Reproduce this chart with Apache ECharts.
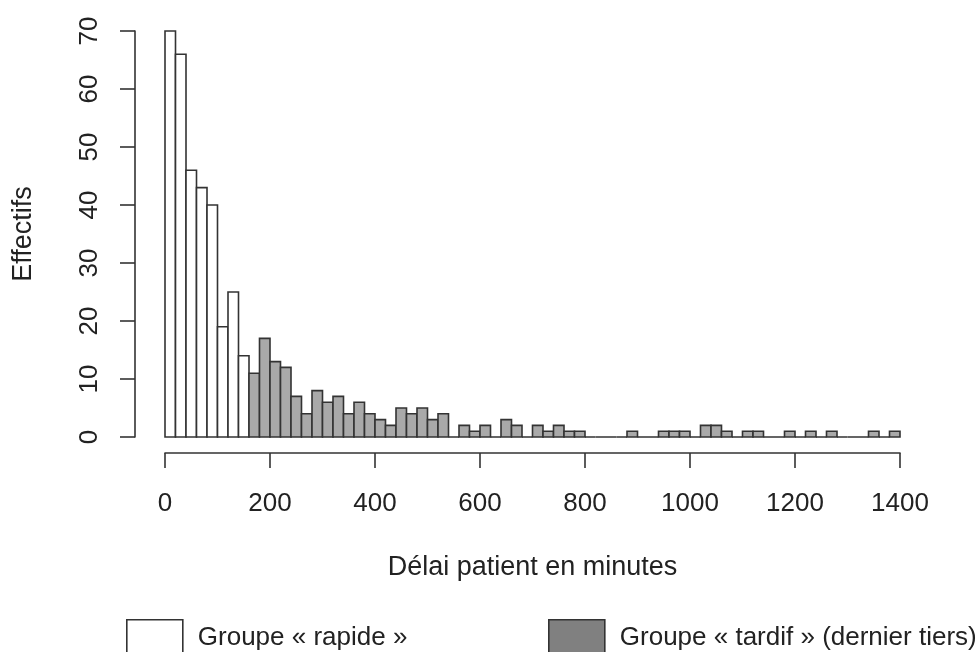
<!DOCTYPE html>
<html>
<head>
<meta charset="utf-8">
<style>
  html, body { margin: 0; padding: 0; background: #fff; }
  #chart { width: 979px; height: 652px; }
</style>
<script src="https://cdn.jsdelivr.net/npm/echarts@6/dist/echarts.min.js"></script>
</head>
<body>
<div id="chart"></div>
<script>
// histogram, bins of 20 minutes
const binWidth = 20;
const rapideStart = 0;
const rapideCounts = [70, 66, 46, 43, 40, 19, 25, 14];
const tardifStart = 160;
const tardifCounts = [
  11, 17, 13, 12, 7, 4, 8, 6, 7, 4,
  6, 4, 3, 2, 5, 4, 5, 3, 4, 0,
  2, 1, 2, 0, 3, 2, 0, 2, 1, 2,
  1, 1, 0, 0, 0, 0, 1, 0, 0, 1,
  1, 1, 0, 2, 2, 1, 0, 1, 1, 0,
  0, 1, 0, 1, 0, 1, 0, 0, 0, 1,
  0, 1
];
const xTicks = [0, 200, 400, 600, 800, 1000, 1200, 1400];
const yTicks = [0, 10, 20, 30, 40, 50, 60, 70];

const FONT = "Liberation Sans, Arial, sans-serif";
const TXT = "#222";
const LINE = "#333";
const NAME_RAPIDE = "Groupe « rapide »";
const NAME_TARDIF = "Groupe « tardif » (dernier tiers)";

function toBins(start, counts) {
  return counts.map((c, i) => [start + i * binWidth, start + (i + 1) * binWidth, c]);
}

function histRender(fill) {
  return function (params, api) {
    var p0 = api.coord([api.value(0), api.value(2)]);
    var p1 = api.coord([api.value(1), 0]);
    return {
      type: "rect",
      shape: { x: p0[0], y: p0[1], width: p1[0] - p0[0], height: p1[1] - p0[1] },
      style: { fill: fill, stroke: LINE, lineWidth: 1.6 },
    };
  };
}

function legendBox(left, name, fill) {
  return {
    left: left,
    top: 619,
    padding: 0,
    itemWidth: 56,
    itemHeight: 37,
    icon: "rect",
    textStyle: { fontSize: 26, color: TXT, fontFamily: FONT, padding: [0, 0, 0, 10] },
    data: [{ name: name, itemStyle: { color: fill, borderColor: LINE, borderWidth: 1.6 } }],
  };
}

var chart = echarts.init(document.getElementById("chart"));
chart.setOption({
  animation: false,
  backgroundColor: "#fff",
  textStyle: { fontFamily: FONT, color: TXT },
  grid: { left: 165, right: 79, top: 31, bottom: 215 },
  xAxis: {
    type: "value",
    min: xTicks[0],
    max: xTicks[xTicks.length - 1],
    interval: 200,
    offset: 16,
    name: "Délai patient en minutes",
    nameLocation: "middle",
    nameGap: 101,
    nameTextStyle: { fontSize: 27, color: TXT, fontFamily: FONT },
    splitLine: { show: false },
    axisLine: { show: true, onZero: false, lineStyle: { color: LINE, width: 1.6 } },
    axisTick: { show: true, length: 15, lineStyle: { color: LINE, width: 1.6 } },
    axisLabel: { fontSize: 26, color: TXT, fontFamily: FONT, margin: 38, formatter: (v) => String(v) },
  },
  yAxis: {
    type: "value",
    min: yTicks[0],
    max: yTicks[yTicks.length - 1],
    interval: 10,
    offset: 30,
    name: "Effectifs",
    nameLocation: "middle",
    nameGap: 98,
    nameTextStyle: { fontSize: 27, color: TXT, fontFamily: FONT },
    splitLine: { show: false },
    axisLine: { show: true, onZero: false, lineStyle: { color: LINE, width: 1.6 } },
    axisTick: { show: true, length: 15, lineStyle: { color: LINE, width: 1.6 } },
    axisLabel: { fontSize: 26, color: TXT, fontFamily: FONT, rotate: 90, margin: 32 },
  },
  legend: [
    legendBox(126, NAME_RAPIDE, "#ffffff"),
    legendBox(548, NAME_TARDIF, "#808080"),
  ],
  series: [
    {
      name: NAME_RAPIDE,
      type: "custom",
      renderItem: histRender("#ffffff"),
      itemStyle: { color: "#ffffff", borderColor: LINE },
      encode: { x: [0, 1], y: 2 },
      data: toBins(rapideStart, rapideCounts),
    },
    {
      name: NAME_TARDIF,
      type: "custom",
      renderItem: histRender("#a9a9a9"),
      itemStyle: { color: "#808080", borderColor: LINE },
      encode: { x: [0, 1], y: 2 },
      data: toBins(tardifStart, tardifCounts),
    },
  ],
});
</script>
</body>
</html>
